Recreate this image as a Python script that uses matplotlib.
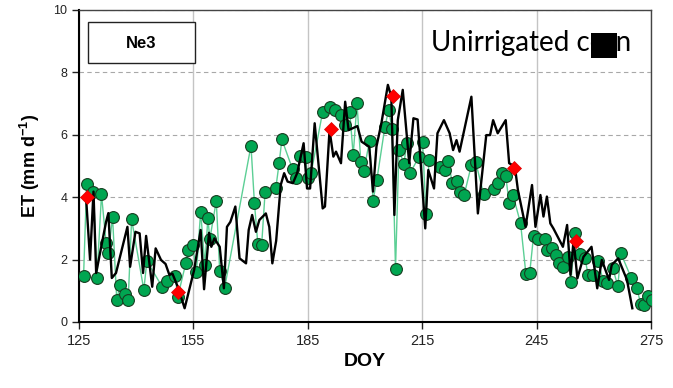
import matplotlib
matplotlib.use("Agg")
import matplotlib.pyplot as plt
from matplotlib.patches import Rectangle

plt.rcParams['font.family'] = ['Liberation Sans', 'DejaVu Sans']
plt.rcParams['mathtext.fontset'] = 'custom'
plt.rcParams['mathtext.rm'] = 'Liberation Sans'
plt.rcParams['mathtext.bf'] = 'Liberation Sans:bold'

# measured ET (green dots)
obs_doy = [126.2, 127.0, 128.8, 129.7, 130.9, 132.1, 132.7, 133.8, 134.9, 135.8,
           137.1, 137.9, 138.8, 142.0, 142.8, 146.8, 148.1, 150.2, 150.9, 153.0,
           153.6, 154.8, 155.8, 156.9, 158.0, 158.8, 159.3, 161.0, 161.9, 163.2,
           170.1, 171.0, 171.9, 172.9, 173.8, 176.6, 177.5, 178.2, 181.0, 182.0,
           183.0, 184.4, 185.0, 185.9, 188.9, 190.7, 192.2, 193.7, 194.8, 196.0,
           196.9, 197.9, 198.9, 199.7, 201.2, 202.1, 203.1, 205.2, 206.2, 207.1,
           208.0, 208.9, 210.2, 211.0, 211.9, 214.1, 215.1, 216.0, 216.8, 219.6,
           220.9, 221.8, 222.9, 224.1, 224.8, 226.0, 227.9, 229.0, 231.1, 233.9,
           234.8, 235.9, 236.9, 237.8, 238.8, 240.8, 242.2, 243.2, 244.2, 245.4,
           247.1, 247.7, 249.1, 250.1, 251.0, 252.0, 253.2, 254.0, 255.1, 256.4,
           257.7, 258.5, 259.8, 261.1, 262.5, 263.4, 265.0, 266.3, 267.1, 269.8,
           271.3, 272.3, 273.2, 274.1, 275.2]
obs_et = [1.48, 4.41, 4.18, 1.40, 4.09, 2.54, 2.22, 3.36, 0.71, 1.19,
          0.90, 0.71, 3.29, 1.03, 1.96, 1.13, 1.31, 1.48, 0.81, 1.88,
          2.31, 2.47, 1.61, 3.54, 1.83, 3.34, 2.65, 3.88, 1.64, 1.10,
          5.65, 3.82, 2.50, 2.47, 4.16, 4.28, 5.11, 5.85, 4.90, 4.60,
          5.32, 5.28, 4.60, 4.79, 6.74, 6.88, 6.81, 6.63, 6.31, 6.74,
          5.35, 7.01, 5.14, 4.85, 5.81, 3.89, 4.55, 6.24, 6.81, 6.18,
          1.70, 5.51, 5.08, 5.75, 4.79, 5.28, 5.78, 3.45, 5.19, 4.96,
          4.87, 5.17, 4.45, 4.53, 4.18, 4.07, 5.03, 5.14, 4.10, 4.25,
          4.45, 4.79, 4.68, 3.82, 4.07, 3.16, 1.54, 1.58, 2.76, 2.65,
          2.65, 2.31, 2.36, 2.15, 1.88, 1.77, 2.09, 1.29, 2.86, 2.18,
          2.04, 1.51, 1.51, 1.96, 1.31, 1.24, 1.72, 1.15, 2.20, 1.42,
          1.08, 0.58, 0.54, 0.83, 0.71]

# modelled ET (black line)
mod_doy = [126.9, 127.9, 128.8, 129.5, 132.1, 132.7, 133.6, 134.7, 137.7, 138.4,
           139.8, 140.9, 141.8, 142.6, 144.2, 145.1, 146.5, 147.7, 148.7, 149.5,
           150.9, 152.7, 155.2, 156.9, 157.8, 159.1, 159.7, 160.5, 161.9, 163.0,
           163.8, 164.7, 166.0, 167.1, 168.8, 169.5, 170.4, 171.4, 172.3, 174.0,
           174.9, 175.7, 176.7, 177.9, 178.8, 179.7, 181.1, 182.2, 183.9, 184.8,
           185.6, 186.8, 188.9, 189.5, 190.7, 191.7, 192.4, 193.7, 194.8, 195.7,
           198.0, 199.1, 201.1, 202.1, 203.0, 204.3, 206.0, 206.9, 207.7, 208.6,
           209.9, 211.6, 212.7, 213.8, 215.8, 216.6, 218.1, 219.0, 220.7, 222.2,
           223.1, 224.0, 224.8, 227.9, 229.6, 231.8, 232.8, 233.6, 234.8, 236.9,
           237.8, 239.3, 240.1, 242.1, 243.8, 244.7, 246.0, 246.8, 247.7, 248.6,
           249.4, 251.9, 253.0, 253.9, 254.7, 255.7, 257.3, 259.4, 260.9, 262.1,
           264.0, 264.7, 266.4, 268.7, 270.1]
mod_et = [3.90, 2.00, 4.18, 1.57, 3.21, 3.49, 1.41, 1.57, 3.05, 1.77,
          2.89, 2.84, 1.57, 2.76, 1.13, 2.36, 1.99, 1.86, 1.51, 1.55,
          1.13, 0.44, 1.67, 2.95, 1.05, 2.86, 2.41, 2.68, 2.41, 1.08,
          3.05, 3.21, 3.70, 2.04, 1.88, 2.95, 3.43, 2.89, 3.27, 3.48,
          3.05, 1.88, 2.60, 4.39, 4.77, 4.50, 4.45, 4.77, 5.73, 4.28,
          4.28, 6.37, 3.64, 3.70, 6.15, 5.30, 5.46, 5.09, 7.06, 6.15,
          6.28, 5.78, 5.62, 4.18, 5.62, 6.37, 7.60, 7.22, 3.43, 6.47,
          7.44, 5.09, 6.53, 6.49, 3.00, 4.87, 4.28, 6.05, 6.47, 6.05,
          5.51, 5.83, 5.46, 7.22, 3.48, 5.99, 5.99, 6.47, 6.05, 6.47,
          5.09, 4.98, 4.23, 3.05, 4.39, 3.05, 4.07, 3.38, 4.02, 3.16,
          3.00, 2.41, 3.11, 1.51, 2.63, 1.40, 2.09, 2.41, 1.08, 1.99,
          1.35, 1.83, 2.04, 1.35, 0.44]

# red diamonds
pt_doy = [127.0, 150.9, 191.1, 207.3, 239.1, 255.3]
pt_et = [4.02, 0.97, 6.18, 7.24, 4.95, 2.61]

fig = plt.figure(figsize=(6.73, 3.88), dpi=100)
ax = fig.add_axes([79 / 673, 1 - 322 / 388, 572 / 673, 312 / 388])

ax.plot(obs_doy, obs_et, color='#5ccf95', lw=1.0, zorder=2)
ax.plot(obs_doy, obs_et, 'o', ms=8.5, mfc='#00a651', mec='#173d20', mew=0.8, zorder=3)
ax.plot(mod_doy, mod_et, color='black', lw=1.7, zorder=4)
ax.plot(pt_doy, pt_et, 'D', ms=7.5, mfc='#ff0000', mec='#dd0000', mew=0.5, zorder=5)

ax.set_xlim(125, 275)
ax.set_ylim(0, 10)
ax.set_xticks(range(125, 276, 30))
ax.set_yticks(range(0, 11, 2))
ax.xaxis.grid(True, color='#c4c4c4', lw=1.0, ls='-')
ax.yaxis.grid(True, color='#a8a8a8', lw=0.8, ls=(0, (4, 3)))
ax.set_axisbelow(True)

for s in ['left', 'bottom']:
    ax.spines[s].set_linewidth(1.5)
    ax.spines[s].set_color('black')
for s in ['top', 'right']:
    ax.spines[s].set_linewidth(1.0)
    ax.spines[s].set_color('#444444')

ax.tick_params(axis='y', direction='out', length=5, width=1, labelsize=9, colors='#222222')
ax.tick_params(axis='x', direction='out', length=5, width=1, labelsize=10.5, colors='#222222')

ax.set_xlabel('DOY', fontsize=14, fontweight='bold', labelpad=4)
ax.set_ylabel(r'ET (mm d$^{\mathbf{-1}}$)', fontsize=13, fontweight='bold', labelpad=8)

# Ne3 box
ax.add_patch(Rectangle((9 / 572, 259 / 312), 107 / 572, 41 / 312, transform=ax.transAxes,
                       fill=True, facecolor='white', edgecolor='#222222', lw=1.0, zorder=6))
ax.text(62 / 572, 279 / 312, 'Ne3', transform=ax.transAxes, ha='center', va='center',
        fontsize=12, fontweight='bold', zorder=7)

# label with the blacked-out letters
lab_kw = dict(fontsize=20, family=['Lato', 'DejaVu Sans'])
lab_x, lab_y = 431, 388 - 43
lab = fig.text(lab_x / 673, lab_y / 388, 'Unirrigated corn', ha='left', va='center',
               zorder=7, **lab_kw)
r = fig.canvas.get_renderer()
w1 = fig.text(0, 0, 'Unirrigated c', **lab_kw).get_window_extent(r).width
w2 = fig.text(0, 0, 'Unirrigated cor', **lab_kw).get_window_extent(r).width
for t in fig.texts[1:]:
    t.remove()
fig.patches.append(Rectangle(((lab_x + w1 + 1) / 673, (388 - 58) / 388), (w2 - w1) / 673,
                             25 / 388, transform=fig.transFigure, facecolor='black',
                             edgecolor='none', zorder=8))

fig.savefig('out.png', dpi=100)
